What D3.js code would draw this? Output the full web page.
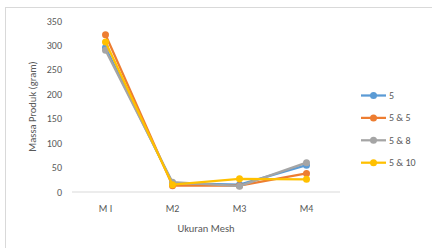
<!DOCTYPE html>
<html>
<head>
<meta charset="utf-8">
<script src="https://cdn.jsdelivr.net/npm/d3@7"></script>
<style>
  body { margin: 0; background: #fff; }
  text { font-family: Calibri, Carlito, "Open Sans", "Liberation Sans", sans-serif; fill: #595959; }
</style>
</head>
<body>
<svg id="chart" width="432" height="248"></svg>
<script>
const categories = ["M I", "M2", "M3", "M4"];
const seriesNames = ["5", "5 & 5", "5 & 8", "5 & 10"];
const seriesColors = ["#5B9BD5", "#ED7D31", "#A5A5A5", "#FFC000"];
const s5 = [296, 18, 15, 55];
const s5and5 = [322, 13, 13, 38];
const s5and8 = [290, 20, 12, 60];
const s5and10 = [307, 15, 27, 26];
const yTicks = [0, 50, 100, 150, 200, 250, 300, 350];

const series = [s5, s5and5, s5and8, s5and10].map((values, i) => ({
    name: seriesNames[i], color: seriesColors[i], values
}));

const svg = d3.select("#chart");
const margin = { left: 72, right: 92, top: 21, bottom: 56 };
const width = 432, height = 248;

// chart border
svg.append("rect")
    .attr("x", 5.5).attr("y", 7.5)
    .attr("width", 440).attr("height", 260)
    .attr("fill", "none").attr("stroke", "#d9d9d9");

const x = d3.scaleBand()
    .domain(categories)
    .range([margin.left, width - margin.right]);

const y = d3.scaleLinear()
    .domain([0, 350])
    .range([height - margin.bottom, margin.top]);

// baseline
svg.append("line")
    .attr("x1", margin.left).attr("x2", width - margin.right)
    .attr("y1", y(0)).attr("y2", y(0))
    .attr("stroke", "#d9d9d9");

// y tick labels
svg.selectAll(".ytick").data(yTicks).join("text")
    .attr("x", 62).attr("y", d => y(d))
    .attr("dy", "0.35em").attr("text-anchor", "end")
    .attr("font-size", 10).text(d => d);

// x tick labels
svg.selectAll(".xtick").data(categories).join("text")
    .attr("x", d => x(d) + x.bandwidth() / 2).attr("y", 212)
    .attr("text-anchor", "middle").attr("font-size", 10).text(d => d);

// axis titles
svg.append("text")
    .attr("transform", `translate(36,${(y(0) + y(350)) / 2}) rotate(-90)`)
    .attr("text-anchor", "middle").attr("font-size", 10.5)
    .text("Massa Produk (gram)");

svg.append("text")
    .attr("x", (margin.left + width - margin.right) / 2).attr("y", 232)
    .attr("text-anchor", "middle").attr("font-size", 10.5)
    .text("Ukuran Mesh");

const line = d3.line()
    .x((d, i) => x(categories[i]) + x.bandwidth() / 2)
    .y(d => y(d));

const g = svg.selectAll(".series").data(series).join("g");
g.append("path")
    .attr("d", d => line(d.values))
    .attr("fill", "none").attr("stroke", d => d.color)
    .attr("stroke-width", 2.25).attr("stroke-linejoin", "round");
g.selectAll("circle").data(d => d.values.map(v => ({ v, color: d.color }))).join("circle")
    .attr("cx", (d, i) => x(categories[i]) + x.bandwidth() / 2)
    .attr("cy", d => y(d.v))
    .attr("r", 3.5).attr("fill", d => d.color);

// legend
const legend = svg.selectAll(".legend").data(series).join("g")
    .attr("transform", (d, i) => `translate(361,${95.5 + i * 22.4})`);
legend.append("line")
    .attr("x1", 0).attr("x2", 25)
    .attr("stroke", d => d.color).attr("stroke-width", 2.25);
legend.append("circle")
    .attr("cx", 12.5).attr("r", 3.5).attr("fill", d => d.color);
legend.append("text")
    .attr("x", 28).attr("dy", "0.35em").attr("font-size", 10)
    .text(d => d.name);
</script>
</body>
</html>
